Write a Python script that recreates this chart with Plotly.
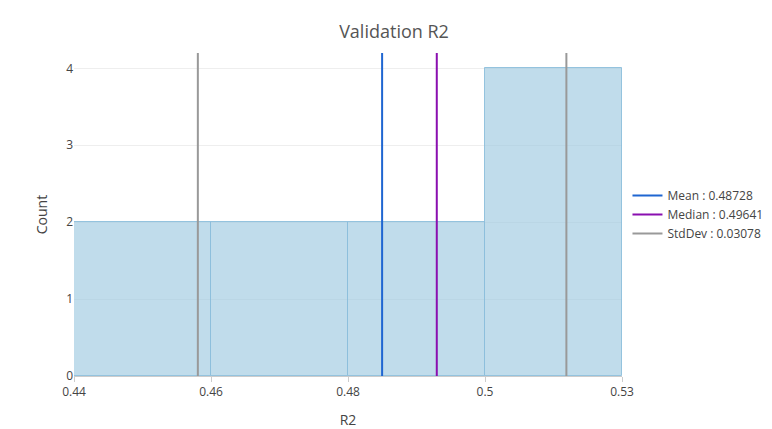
import plotly.graph_objects as go

bin_labels = ["0.44", "0.46", "0.48", "0.5", "0.53"]
counts = [2, 2, 2, 4]
# line positions in displayed (equal-width bin) axis units
mean_pos = 2.249
median_pos = 2.648
std_pos = [0.904, 3.594]
mean_val, median_val, std_val = 0.48728, 0.49641, 0.03078

fig = go.Figure()
fig.add_trace(go.Bar(x=[i + 0.5 for i in range(len(counts))], y=counts, width=1,
                     marker=dict(color="rgba(158,202,225,0.65)",
                                 line=dict(color="rgba(140,190,220,0.9)", width=1)),
                     showlegend=False, hoverinfo="skip"))
top = 4.2
fig.add_trace(go.Scatter(x=[mean_pos, mean_pos], y=[0, top], mode="lines",
                         line=dict(color="#1f66d1", width=2), name=f"Mean : {mean_val:.5f}"))
fig.add_trace(go.Scatter(x=[median_pos, median_pos], y=[0, top], mode="lines",
                         line=dict(color="#8a0fb0", width=2), name=f"Median : {median_val:.5f}"))
for i, p in enumerate(std_pos):
    fig.add_trace(go.Scatter(x=[p, p], y=[0, top], mode="lines",
                             line=dict(color="#999999", width=2), name=f"StdDev : {std_val:.5f}",
                             showlegend=(i == 0)))

fig.update_layout(
    width=772, height=429, plot_bgcolor="white", paper_bgcolor="white",
    margin=dict(l=66, r=135, t=45, b=51),
    font=dict(family="Open Sans", color="#444", size=12),
    title=dict(text="Validation R2", x=0.5, xanchor="center", y=0.96,
               font=dict(size=18, color="#555")),
    xaxis=dict(range=[0, 4], tickvals=list(range(5)), ticktext=bin_labels,
               showgrid=False, zeroline=False, showline=True, linecolor="#ccc",
               ticks="outside", tickcolor="#ccc", title=dict(text="R2", font=dict(size=14))),
    yaxis=dict(range=[0, top], tickvals=[0, 1, 2, 3, 4], gridcolor="#eee",
               zeroline=False, title=dict(text="Count", font=dict(size=14))),
    legend=dict(x=1.01, y=0.5, yanchor="middle", font=dict(size=12)),
    bargap=0,
)
fig.write_html("out.html")
